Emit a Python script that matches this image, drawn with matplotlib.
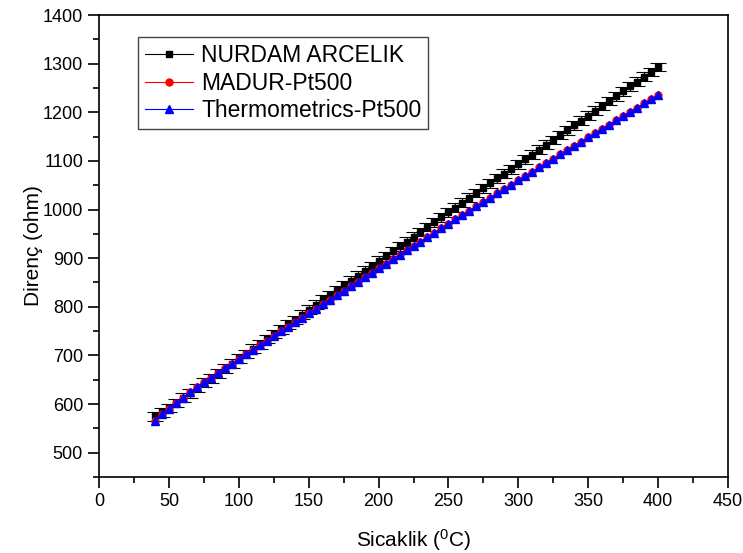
import matplotlib
matplotlib.use("Agg")
import matplotlib.pyplot as plt
from matplotlib.ticker import MultipleLocator

plt.rcParams['font.family'] = ['Liberation Sans', 'DejaVu Sans']
plt.rcParams['mathtext.default'] = 'regular'

temps = list(range(40, 401, 5))

nurdam = [575, 583, 592, 602, 613, 622, 633, 644, 653, 663, 673, 683, 694, 703,
          714, 723, 734, 744, 754, 764, 773, 784, 794, 804, 815, 824, 834, 844,
          854, 864, 874, 884, 895, 904, 914, 924, 934, 944, 954, 964, 974, 984,
          994, 1004, 1014, 1024, 1034, 1044, 1054, 1064, 1074, 1083, 1093, 1103,
          1113, 1123, 1133, 1143, 1153, 1163, 1173, 1183, 1193, 1203, 1213, 1223,
          1233, 1243, 1253, 1263, 1273, 1283, 1293]
nurdam_err = [9] * len(temps)

madur = [565.0, 580.0, 590.0, 602.0, 613.0, 624.0, 635.4, 644.9, 654.5, 664.0,
         673.5, 683.0, 692.5, 702.0, 711.5, 720.9, 730.3, 739.8, 749.2, 758.5,
         767.9, 777.3, 786.6, 796.0, 805.3, 814.6, 823.9, 833.1, 842.4, 851.6,
         860.9, 870.1, 879.3, 888.5, 897.6, 906.8, 915.9, 925.1, 934.2, 943.3,
         952.4, 961.4, 970.5, 979.5, 988.6, 997.6, 1006.6, 1015.6, 1024.5, 1033.5,
         1042.4, 1051.3, 1060.3, 1069.2, 1078.0, 1086.9, 1095.8, 1104.6, 1113.4,
         1122.2, 1131.0, 1139.8, 1148.6, 1157.3, 1166.1, 1174.8, 1183.5, 1192.2,
         1200.9, 1209.5, 1218.2, 1226.8, 1235.5]

thermo = [565.0, 580.0, 590.0, 602.0, 613.0, 624.0, 635.4, 644.9, 654.5, 664.0,
          673.5, 683.0, 692.5, 702.0, 711.5, 720.9, 730.3, 739.8, 749.2, 758.5,
          767.9, 777.3, 786.6, 796.0, 805.3, 814.6, 823.9, 833.1, 842.4, 851.6,
          860.9, 870.1, 879.3, 888.5, 897.6, 906.8, 915.9, 925.1, 934.2, 943.3,
          952.4, 961.4, 970.5, 979.5, 988.6, 997.6, 1006.6, 1015.6, 1024.5, 1033.5,
          1042.4, 1051.3, 1060.3, 1069.2, 1078.0, 1086.9, 1095.8, 1104.6, 1113.4,
          1122.2, 1131.0, 1139.8, 1148.6, 1157.3, 1166.1, 1174.8, 1183.5, 1192.2,
          1200.9, 1209.5, 1218.2, 1226.8, 1235.5]

labels = ["NURDAM ARCELIK", "MADUR-Pt500", "Thermometrics-Pt500"]

fig = plt.figure(figsize=(7.43, 5.53), dpi=100)
ax = fig.add_axes([99/743, 1 - 477/553, (728 - 99)/743, (477 - 15)/553])

ax.errorbar(temps, nurdam, yerr=nurdam_err, fmt='none', ecolor='black',
            elinewidth=0.8, capsize=6, capthick=0.8, zorder=2)
ax.plot(temps, nurdam, color='black', lw=0.8, marker='s', ms=5,
        label=labels[0], zorder=3)
ax.plot(temps, madur, color='red', lw=0.8, marker='o', ms=5,
        label=labels[1], zorder=4)
ax.plot(temps, thermo, color='blue', lw=0.8, marker='^', ms=6,
        label=labels[2], zorder=5)

ax.set_xlim(0, 450)
ax.set_ylim(450, 1400)
ax.xaxis.set_major_locator(MultipleLocator(50))
ax.xaxis.set_minor_locator(MultipleLocator(25))
ax.yaxis.set_major_locator(MultipleLocator(100))
ax.yaxis.set_minor_locator(MultipleLocator(50))
ax.tick_params(which='major', direction='out', length=8, width=1.2,
               labelsize=13, top=False, right=False)
ax.tick_params(which='minor', direction='out', length=4, width=1.2,
               top=False, right=False)
for s in ax.spines.values():
    s.set_linewidth(1.2)

ax.set_xlabel('Sicaklik ($^{0}$C)', fontsize=15, labelpad=12)
ax.set_ylabel('Direnç (ohm)', fontsize=15, labelpad=0)

leg = ax.legend(loc='upper left', bbox_to_anchor=(0.062, 0.952),
                borderaxespad=0, fontsize=16.5, frameon=True, fancybox=False,
                edgecolor='#444444', framealpha=1, handlelength=2.1,
                labelspacing=0.2, borderpad=0.3, handletextpad=0.35)
leg.get_frame().set_linewidth(1.0)

fig.savefig('out.png', dpi=100)
